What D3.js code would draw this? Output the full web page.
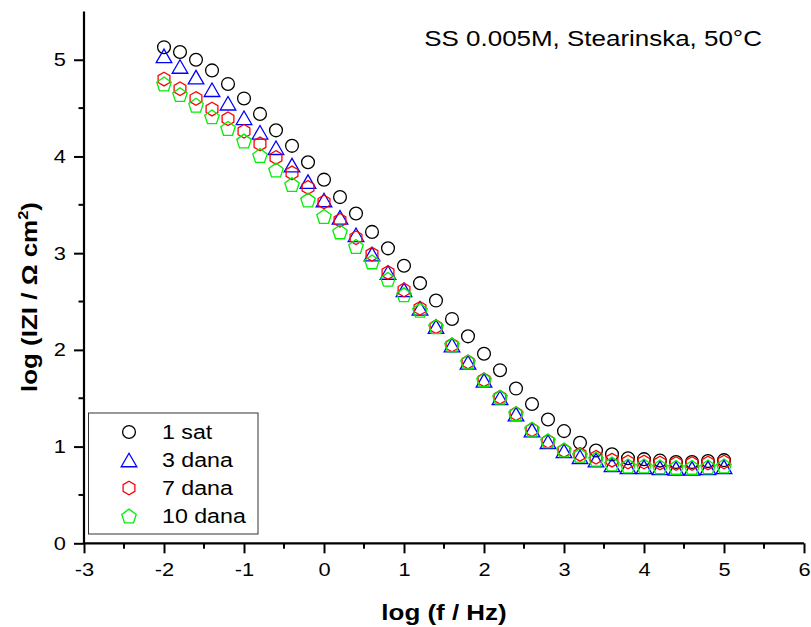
<!DOCTYPE html>
<html>
<head>
<meta charset="utf-8">
<script src="https://cdn.jsdelivr.net/npm/d3@7"></script>
<style>
  html, body { margin: 0; padding: 0; background: #fff; }
  svg { display: block; }
  text { font-family: "Liberation Sans", Arial, sans-serif; fill: #000; }
</style>
</head>
<body>
<svg id="chart" width="811" height="627"></svg>
<script>
// ---- data ----
const logF = [-2, -1.8, -1.6, -1.4, -1.2, -1.0, -0.8, -0.6, -0.4, -0.2, 0, 0.2, 0.4, 0.6, 0.8, 1.0, 1.2, 1.4, 1.6, 1.8, 2.0, 2.2, 2.4, 2.6, 2.8, 3.0, 3.2, 3.4, 3.6, 3.8, 4.0, 4.2, 4.4, 4.6, 4.8, 5.0];
const sat1 = [5.13, 5.08, 5.00, 4.89, 4.75, 4.60, 4.44, 4.27, 4.11, 3.94, 3.76, 3.58, 3.41, 3.22, 3.05, 2.87, 2.69, 2.51, 2.32, 2.14, 1.96, 1.79, 1.60, 1.44, 1.28, 1.16, 1.04, 0.96, 0.92, 0.88, 0.87, 0.855, 0.84, 0.84, 0.85, 0.86];
const dana3 = [5.04, 4.93, 4.82, 4.69, 4.55, 4.40, 4.25, 4.09, 3.91, 3.74, 3.55, 3.37, 3.19, 2.99, 2.80, 2.62, 2.43, 2.24, 2.05, 1.87, 1.685, 1.505, 1.335, 1.17, 1.05, 0.955, 0.895, 0.86, 0.81, 0.79, 0.79, 0.78, 0.775, 0.775, 0.78, 0.79];
const dana7 = [4.80, 4.70, 4.60, 4.49, 4.39, 4.26, 4.13, 3.99, 3.83, 3.68, 3.53, 3.34, 3.16, 2.99, 2.80, 2.62, 2.43, 2.24, 2.05, 1.875, 1.69, 1.51, 1.34, 1.175, 1.055, 0.96, 0.92, 0.89, 0.86, 0.84, 0.84, 0.83, 0.825, 0.825, 0.83, 0.84];
const dana10 = [4.75, 4.64, 4.53, 4.41, 4.29, 4.16, 4.01, 3.86, 3.71, 3.55, 3.38, 3.22, 3.07, 2.91, 2.73, 2.57, 2.41, 2.24, 2.05, 1.875, 1.69, 1.51, 1.34, 1.18, 1.06, 0.965, 0.91, 0.87, 0.82, 0.80, 0.80, 0.79, 0.785, 0.785, 0.79, 0.80];
const seriesNames = ["1 sat", "3 dana", "7 dana", "10 dana"];
const seriesColors = ["#000000", "#0000ff", "#ff0000", "#00ee00"];
const seriesShapes = ["circle", "triangle", "hexagon", "pentagon"];
const xTicks = [-3, -2, -1, 0, 1, 2, 3, 4, 5, 6];
const yTicks = [0, 1, 2, 3, 4, 5];
const titleText = "SS 0.005M, Stearinska, 50°C";

const seriesValues = [sat1, dana3, dana7, dana10];

// ---- layout ----
const SX = 1.18; // horizontal stretch of the lettering
const svg = d3.select("#chart");
const x = d3.scaleLinear().domain([-3, 6]).range([84, 804]);
const y = d3.scaleLinear().domain([0, 5.5]).range([543.3, 11.4]);

function shapePath(shape) {
  if (shape === "circle") {
    const r = 6.4;
    return `M${r},0A${r},${r} 0 1,1 ${-r},0A${r},${r} 0 1,1 ${r},0Z`;
  }
  if (shape === "triangle") {
    const w = 15.6, h = 13.5;
    return `M0,${-h/2}L${w/2},${h/2}L${-w/2},${h/2}Z`;
  }
  if (shape === "hexagon") {
    const r = 6.8;
    const pts = d3.range(6).map(i => {
      const a = -Math.PI / 2 + i * Math.PI / 3;
      return [r * Math.cos(a), r * Math.sin(a)];
    });
    return "M" + pts.map(p => p.join(",")).join("L") + "Z";
  }
  if (shape === "pentagon") {
    const R = 7.6;
    const off = (R - R * Math.cos(Math.PI / 5)) / 2;
    const pts = d3.range(5).map(i => {
      const a = -Math.PI / 2 + i * 2 * Math.PI / 5;
      return [R * Math.cos(a), R * Math.sin(a) + off];
    });
    return "M" + pts.map(p => p.join(",")).join("L") + "Z";
  }
}

// ---- points ----
seriesValues.forEach((vals, si) => {
  const g = svg.append("g");
  g.selectAll("path")
    .data(logF.map((f, i) => ({ f, v: vals[i] })))
    .join("path")
    .attr("d", shapePath(seriesShapes[si]))
    .attr("transform", d => `translate(${x(d.f)},${y(d.v)})`)
    .attr("fill", "none")
    .attr("stroke", seriesColors[si])
    .attr("stroke-width", 1.3);
});

// ---- axes ----
const xAxis = d3.axisBottom(x).tickValues(xTicks).tickSize(10).tickSizeOuter(0).tickPadding(10)
  .tickFormat(d => (d < 0 ? "-" + Math.abs(d) : String(d)));
const yAxis = d3.axisLeft(y).tickValues(yTicks).tickSize(10).tickSizeOuter(0).tickPadding(8)
  .tickFormat(d3.format("d"));

const gx = svg.append("g").attr("transform", `translate(0,${y(0)})`).call(xAxis);
const gy = svg.append("g").attr("transform", `translate(${x(-3)},0)`).call(yAxis);
[gx, gy].forEach(g => {
  g.select(".domain").attr("stroke", "#000").attr("stroke-width", 2.2);
  g.selectAll(".tick line").attr("stroke", "#000").attr("stroke-width", 2);
  g.selectAll(".tick text").style("font-size", "18.5px").attr("fill", "#000");
});
// stretch tick labels horizontally about their anchor
gx.selectAll(".tick text").each(function () {
  const t = d3.select(this);
  const yy = +t.attr("y");
  t.attr("y", 0).attr("transform", `translate(0,${yy}) scale(${SX},1)`);
});
gy.selectAll(".tick text").each(function () {
  const t = d3.select(this);
  const xx = +t.attr("x");
  t.attr("x", 0).attr("transform", `translate(${xx},0) scale(${SX},1)`);
});
gy.select(".domain").attr("d", `M0,${y(0)}V${y(5.5)}`);
gx.select(".domain").attr("d", `M${x(-3)},0H${x(6)}`);

// minor ticks
const xMinor = d3.range(-2.5, 6, 1);
const yMinor = d3.range(0.5, 5.5, 1);
svg.append("g").selectAll("line").data(xMinor).join("line")
  .attr("x1", d => x(d)).attr("x2", d => x(d))
  .attr("y1", y(0)).attr("y2", y(0) + 5.5)
  .attr("stroke", "#000").attr("stroke-width", 2);
svg.append("g").selectAll("line").data(yMinor).join("line")
  .attr("y1", d => y(d)).attr("y2", d => y(d))
  .attr("x1", x(-3)).attr("x2", x(-3) - 5.5)
  .attr("stroke", "#000").attr("stroke-width", 2);

// ---- axis titles ----
svg.append("text")
  .attr("transform", `translate(444,620) scale(${SX},1)`)
  .attr("text-anchor", "middle")
  .style("font-size", "22px").style("font-weight", "bold")
  .text("log (f  / Hz)");

const yl = svg.append("text")
  .attr("transform", `translate(37,297) rotate(-90) scale(${SX},1)`)
  .attr("text-anchor", "middle")
  .style("font-size", "22px").style("font-weight", "bold");
yl.append("tspan").text("log (IZI / Ω cm");
yl.append("tspan").attr("dy", -9).style("font-size", "14px").text("2");
yl.append("tspan").attr("dy", 9).text(")");

// ---- title ----
svg.append("text")
  .attr("transform", `translate(762,46) scale(${SX},1)`)
  .attr("text-anchor", "end")
  .style("font-size", "22px")
  .text(titleText);

// ---- legend ----
const lg = svg.append("g");
lg.append("rect")
  .attr("x", 88.5).attr("y", 413).attr("width", 169.5).attr("height", 121)
  .attr("fill", "#fff").attr("stroke", "#333").attr("stroke-width", 1);
seriesNames.forEach((name, i) => {
  const cy = 432 + i * 28;
  lg.append("path")
    .attr("d", shapePath(seriesShapes[i]))
    .attr("transform", `translate(129,${cy})`)
    .attr("fill", "none").attr("stroke", seriesColors[i]).attr("stroke-width", 1.3);
  lg.append("text")
    .attr("transform", `translate(162,${cy + 7}) scale(1.16,1)`)
    .style("font-size", "20px")
    .text(name);
});
</script>
</body>
</html>
